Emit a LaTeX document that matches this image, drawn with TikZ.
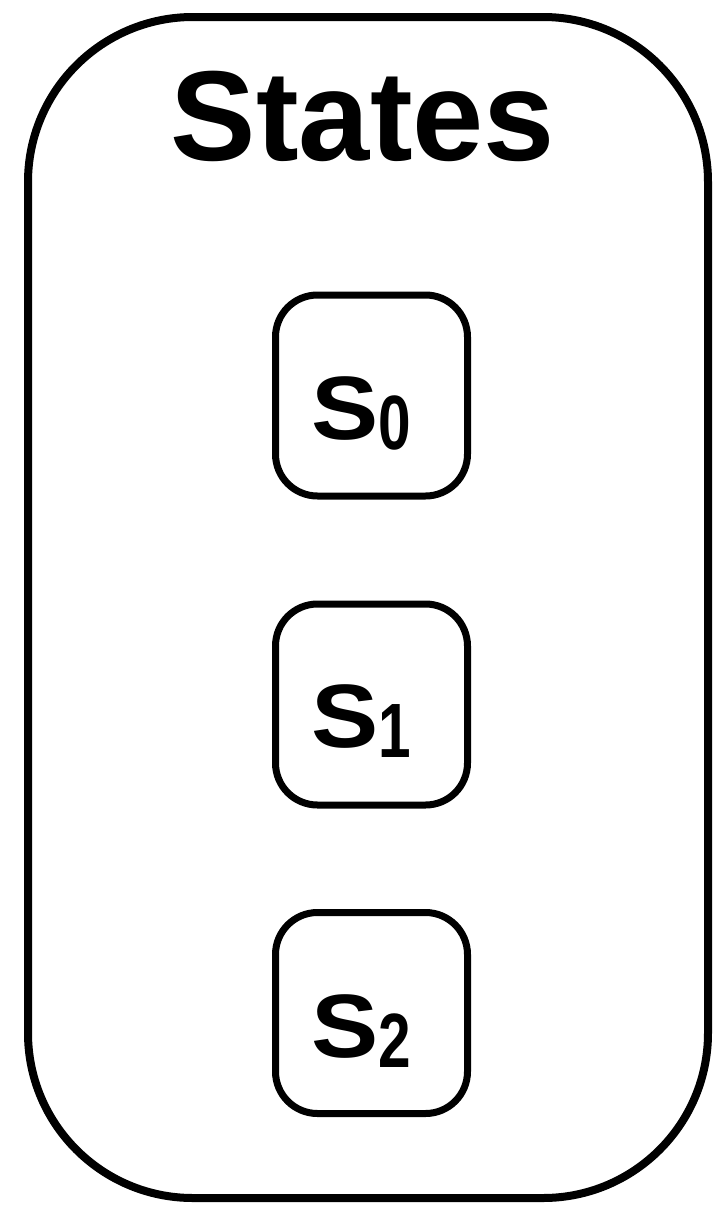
\documentclass[tikz,border=0pt]{standalone}
\usepackage{fontspec}
\setmainfont{Liberation Sans}
\usetikzlibrary{positioning}

% wide S and narrow lowered digit
\newcommand{\statename}[1]{\scalebox{1.12}[1]{S}\raisebox{-10pt}{\scalebox{0.76}[1]{\fontsize{77}{77}\selectfont\bfseries #1}}}

\begin{document}
\begin{tikzpicture}[
    x=1pt, y=-1pt,
    grupo/.style={rectangle, draw=black, line width=8pt, rounded corners=165pt, minimum width=680pt, minimum height=1181pt, inner sep=0pt},
    estado/.style={rectangle, draw=black, line width=7pt, rounded corners=42pt, minimum width=192pt, minimum height=201pt, inner sep=0pt},
    rotulo/.style={anchor=base west, inner sep=0pt, font=\fontsize{90}{90}\selectfont\bfseries},
]
\useasboundingbox (0,0) rectangle (714,1205);

\node (states) [grupo] at (368,607.5) {};
\node (title) [anchor=base, inner sep=0pt, font=\fontsize{128}{128}\selectfont\bfseries] at (363,160) {States};

\node (s0) [estado] at (371.5,395.5) {};
\node (s1) [estado] at (371.5,704.5) {};
\node (s2) [estado] at (371.5,1013) {};

\node (s0text) [rotulo] at (311.5,439) {\statename{0}};
\node (s1text) [rotulo] at (311.5,747) {\statename{1}};
\node (s2text) [rotulo] at (311.5,1057) {\statename{2}};

\end{tikzpicture}
\end{document}
